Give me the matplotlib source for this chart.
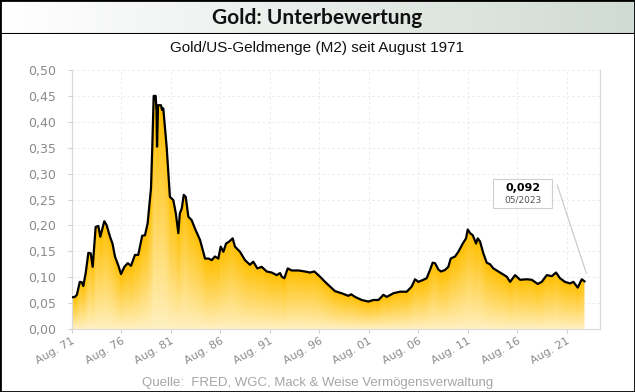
import numpy as np
import matplotlib.pyplot as plt
from matplotlib.colors import to_rgb
from matplotlib.patches import Rectangle

# Gold / US-Geldmenge M2 (Jahr als Dezimalzahl, Wert)
years = [1971.58, 1971.9, 1972.1, 1972.4, 1972.6, 1972.75, 1973.0, 1973.26, 1973.5, 1973.7,
         1974.0, 1974.27, 1974.47, 1974.87, 1975.1, 1975.45, 1975.7, 1975.95, 1976.3, 1976.56,
         1976.9, 1977.24, 1977.57, 1977.97, 1978.3, 1978.7, 1978.98, 1979.25, 1979.59, 1979.72,
         1979.86, 1980.06, 1980.15, 1980.2, 1980.3, 1980.6, 1980.7, 1980.83, 1981.17, 1981.5,
         1981.84, 1982.1, 1982.35, 1982.5, 1982.7, 1982.9, 1983.1, 1983.36, 1983.7, 1984.03,
         1984.54, 1985.05, 1985.4, 1985.72, 1986.05, 1986.39, 1986.63, 1986.9, 1987.17, 1987.5,
         1987.84, 1988.07, 1988.58, 1989.08, 1989.59, 1989.92, 1990.33, 1990.77, 1991.28, 1991.78,
         1992.29, 1992.62, 1992.8, 1993.06, 1993.4, 1993.8, 1994.47, 1995.15, 1995.65, 1996.09,
         1996.66, 1997.17, 1997.67, 1998.18, 1998.85, 1999.52, 1999.8, 2000.2, 2000.87, 2001.54,
         2002.05, 2002.55, 2002.72, 2003.06, 2003.4, 2004.07, 2004.74, 2005.42, 2005.92, 2006.26,
         2006.59, 2007.1, 2007.43, 2007.77, 2008.04, 2008.28, 2008.61, 2008.88, 2009.29, 2009.62,
         2009.86, 2010.3, 2010.63, 2011.08, 2011.41, 2011.58, 2011.82, 2012.09, 2012.42, 2012.59,
         2012.82, 2013.16, 2013.5, 2013.83, 2014.17, 2014.85, 2015.52, 2015.86, 2016.36, 2016.87,
         2017.54, 2018.05, 2018.65, 2019.06, 2019.56, 2020.07, 2020.5, 2020.9, 2021.4, 2021.91,
         2022.25, 2022.69, 2023.1, 2023.37]
values = [0.061, 0.062, 0.066, 0.091, 0.090, 0.083, 0.109, 0.147, 0.146, 0.120,
          0.197, 0.199, 0.178, 0.208, 0.201, 0.178, 0.165, 0.140, 0.122, 0.106,
          0.120, 0.127, 0.122, 0.143, 0.143, 0.180, 0.181, 0.204, 0.272, 0.352,
          0.450, 0.450, 0.420, 0.352, 0.432, 0.432, 0.423, 0.426, 0.352, 0.255,
          0.249, 0.223, 0.185, 0.223, 0.233, 0.259, 0.255, 0.217, 0.210, 0.194,
          0.172, 0.136, 0.136, 0.133, 0.140, 0.136, 0.159, 0.149, 0.165, 0.169,
          0.175, 0.159, 0.149, 0.133, 0.124, 0.130, 0.117, 0.120, 0.111, 0.109,
          0.104, 0.108, 0.101, 0.098, 0.117, 0.113, 0.113, 0.111, 0.109, 0.111,
          0.101, 0.091, 0.082, 0.073, 0.069, 0.064, 0.067, 0.062, 0.056, 0.053,
          0.056, 0.056, 0.059, 0.066, 0.062, 0.069, 0.072, 0.072, 0.082, 0.096,
          0.091, 0.095, 0.098, 0.114, 0.128, 0.127, 0.115, 0.111, 0.114, 0.120,
          0.136, 0.140, 0.149, 0.165, 0.175, 0.192, 0.185, 0.181, 0.165, 0.175,
          0.169, 0.146, 0.128, 0.125, 0.117, 0.109, 0.101, 0.091, 0.104, 0.095,
          0.096, 0.095, 0.087, 0.091, 0.104, 0.102, 0.109, 0.098, 0.091, 0.088,
          0.091, 0.080, 0.096, 0.092]

tick_pos = [1971.58, 1976.58, 1981.58, 1986.58, 1991.58, 1996.58, 2001.58, 2006.58,
            2011.58, 2016.58, 2021.58]
tick_labels = ["Aug. 71", "Aug. 76", "Aug. 81", "Aug. 86", "Aug. 91", "Aug. 96",
               "Aug. 01", "Aug. 06", "Aug. 11", "Aug. 16", "Aug. 21"]
y_ticks = [0.0, 0.05, 0.10, 0.15, 0.20, 0.25, 0.30, 0.35, 0.40, 0.45, 0.50]
last_value = 0.092
last_label = "05/2023"

x = np.array(years)
y = np.array(values)

fig = plt.figure(figsize=(6.35, 3.92), dpi=100)
W, H = 635, 392

# Kopfzeile mit Verlauf
hax = fig.add_axes([0, 1 - 34 / H, 1, 34 / H])
grad = np.linspace(0, 1, 256)
c0 = np.array(to_rgb("#ffffff"))
c1 = np.array(to_rgb("#d0dbd3"))
hax.imshow((c0 + (c1 - c0) * grad[:, None])[None, :, :], aspect="auto", extent=[0, 1, 0, 1])
hax.set_xlim(0, 1)
hax.set_ylim(0, 1)
hax.axis("off")
hax.text(0.5, 0.47, "Gold: Unterbewertung", ha="center", va="center",
         fontsize=15, fontweight="bold", family="Lato", color="#111111")
hax.axhline(0, color="black", lw=1.5)

fig.text(0.5, 1 - 48 / H, "Gold/US-Geldmenge (M2) seit August 1971", ha="center", va="center",
         fontsize=11, family="Liberation Sans", color="#111111")
fig.text(0.5, 1 - 383 / H, "Quelle:  FRED, WGC, Mack & Weise Vermögensverwaltung", ha="center",
         va="center", fontsize=9.5, family="Liberation Sans", color="#a6a6a6")

ax = fig.add_axes([71.7 / W, 1 - 329 / H, (600 - 71.7) / W, (329 - 70) / H])
ax.set_xlim(1971.58, 2024.94)
ax.set_ylim(0, 0.5)

# Verlaufsfüllung: je Spalte von dunkelgold (oben) nach hellgelb (unten)
nx, ny = 900, 400
gx = np.linspace(x[0], x[-1], nx)
gy = np.linspace(0, 0.5, ny)
top = np.interp(gx, x, y)
t = np.clip(gy[:, None] / top[None, :], 0, 1) ** 0.9
gold = np.array(to_rgb("#ffbf00"))
pale = np.array(to_rgb("#fff1c4"))
img = pale + (gold - pale) * t[:, :, None]
im = ax.imshow(img, origin="lower", aspect="auto", extent=[x[0], x[-1], 0, 0.5], zorder=2)
poly = ax.fill_between(x, y, 0, color="none", lw=0)
im.set_clip_path(poly.get_paths()[0], transform=ax.transData)
ax.plot(x, y, color="black", lw=1.6, zorder=3, solid_joinstyle="round")

ax.set_xticks(tick_pos)
ax.set_xticklabels(tick_labels, rotation=30, ha="right", rotation_mode="anchor")
ax.set_yticks(y_ticks)
ax.set_yticklabels([f"{v:.2f}".replace(".", ",") for v in y_ticks])
ax.tick_params(colors="#d0d0d0", labelcolor="#8a8a8a", labelsize=9, length=3, width=0.8)
ax.tick_params(axis="x", labelsize=8, pad=2)
ax.tick_params(axis="y", pad=8)
ax.grid(True, color="#e8e8e8", lw=0.6, ls=(0, (3, 3)), zorder=0)
ax.set_axisbelow(True)
for s in ["left", "bottom", "right"]:
    ax.spines[s].set_color("#d9d9d9")
ax.spines["top"].set_visible(False)

# Beschriftung letzter Wert
bx0, bx1 = (493 - 71.7) / 528.3, (552.3 - 71.7) / 528.3
by0, by1 = (329 - 208.3) / 259, (329 - 179) / 259
ax.add_patch(Rectangle((bx0, by0), bx1 - bx0, by1 - by0, transform=ax.transAxes,
                       facecolor="white", edgecolor="#cfcfcf", lw=0.8, zorder=4))
ax.text((bx0 + bx1) / 2, by0 + 0.68 * (by1 - by0), f"{last_value:.3f}".replace(".", ","),
        transform=ax.transAxes, ha="center", va="center", fontsize=8, fontweight="bold", zorder=5)
ax.text((bx0 + bx1) / 2, by0 + 0.28 * (by1 - by0), last_label, transform=ax.transAxes,
        ha="center", va="center", fontsize=6.5, color="#555555", zorder=5)
ax.annotate("", xy=(x[-1] + 0.2, last_value + 0.015), xycoords="data",
            xytext=(0.919, 0.556), textcoords="axes fraction",
            arrowprops=dict(arrowstyle="-", color="#c8c8c8", lw=0.8, shrinkA=0, shrinkB=0))

fig.patches.append(Rectangle((0, 0), 1, 1, transform=fig.transFigure, fill=False,
                             edgecolor="black", lw=2, zorder=10))

fig.savefig("out.png", dpi=100)
